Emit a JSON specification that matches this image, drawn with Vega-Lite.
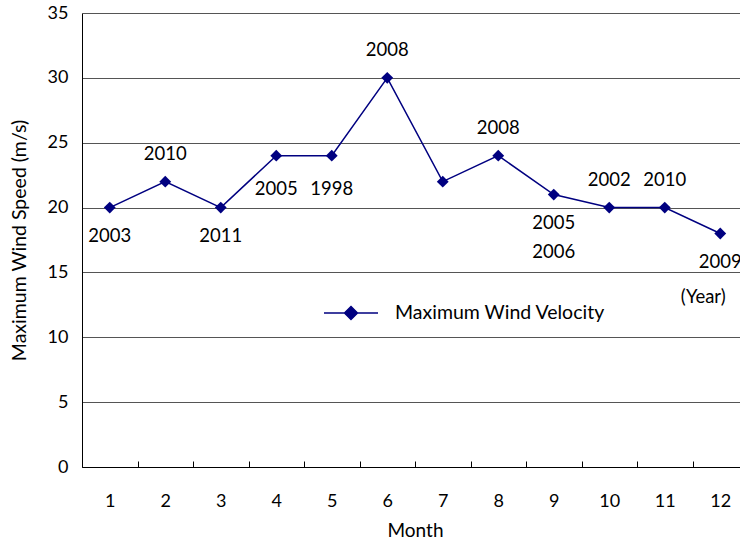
{
  "$schema": "https://vega.github.io/schema/vega-lite/v6.json",
  "width": 666,
  "height": 454,
  "autosize": {"type": "none"},
  "padding": {"left": 82, "top": 13, "right": 0, "bottom": 73},
  "background": "white",
  "config": {
    "view": {"stroke": null},
    "font": "Lato",
    "axis": {"labelFont": "Lato", "titleFont": "Lato", "labelColor": "black", "titleColor": "black", "titleFontWeight": "normal"}
  },
  "datasets": {
    "speeds": [
      {"month": 1, "speed": 20, "series": "Maximum Wind Velocity"},
      {"month": 2, "speed": 22, "series": "Maximum Wind Velocity"},
      {"month": 3, "speed": 20, "series": "Maximum Wind Velocity"},
      {"month": 4, "speed": 24, "series": "Maximum Wind Velocity"},
      {"month": 5, "speed": 24, "series": "Maximum Wind Velocity"},
      {"month": 6, "speed": 30, "series": "Maximum Wind Velocity"},
      {"month": 7, "speed": 22, "series": "Maximum Wind Velocity"},
      {"month": 8, "speed": 24, "series": "Maximum Wind Velocity"},
      {"month": 9, "speed": 21, "series": "Maximum Wind Velocity"},
      {"month": 10, "speed": 20, "series": "Maximum Wind Velocity"},
      {"month": 11, "speed": 20, "series": "Maximum Wind Velocity"},
      {"month": 12, "speed": 18, "series": "Maximum Wind Velocity"}
    ],
    "labels": [
      {"month": 1, "speed": 20, "text": "2003", "place": "below"},
      {"month": 2, "speed": 22, "text": "2010", "place": "above"},
      {"month": 3, "speed": 20, "text": "2011", "place": "below"},
      {"month": 4, "speed": 24, "text": "2005", "place": "belowfar"},
      {"month": 5, "speed": 24, "text": "1998", "place": "belowfar"},
      {"month": 6, "speed": 30, "text": "2008", "place": "above"},
      {"month": 8, "speed": 24, "text": "2008", "place": "above"},
      {"month": 9, "speed": 21, "text": "2005", "place": "below"},
      {"month": 9, "speed": 21, "text": "2006", "place": "below2"},
      {"month": 10, "speed": 20, "text": "2002", "place": "above"},
      {"month": 11, "speed": 20, "text": "2010", "place": "above"},
      {"month": 12, "speed": 18, "text": "2009", "place": "below"},
      {"month": 12, "speed": 18, "text": "(Year)", "place": "unit"}
    ]
  },
  "layer": [
    {
      "data": {"name": "speeds"},
      "mark": {"type": "line", "strokeWidth": 1.5, "point": false},
      "encoding": {
        "x": {
          "field": "month", "type": "ordinal", "bandPosition": 0.5,
          "scale": {"type": "band", "paddingInner": 0, "paddingOuter": 0},
          "axis": {
            "title": "Month", "labelAngle": 0, "tickBand": "extent",
            "tickSize": -6, "tickColor": "black", "domainColor": "black",
            "labelPadding": 31, "labelFontSize": 18, "titleFontSize": 19,
            "titlePadding": 11, "grid": false
          }
        },
        "y": {
          "field": "speed", "type": "quantitative",
          "scale": {"domain": [0, 35]},
          "axis": {
            "title": "Maximum Wind Speed (m/s)", "values": [0, 5, 10, 15, 20, 25, 30, 35],
            "grid": true, "gridColor": "#555555", "gridWidth": 1,
            "ticks": false, "domainColor": "black",
            "labelPadding": 14, "labelFontSize": 18, "titleFontSize": 19.5, "titlePadding": 18
          }
        },
        "color": {
          "field": "series", "type": "nominal",
          "scale": {"range": ["#000080"]},
          "legend": {
            "title": null, "orient": "none", "legendX": 241, "legendY": 272,
            "symbolType": "M-1,0L1,0M0,-0.24L0.24,0L0,0.24L-0.24,0Z",
            "symbolSize": 2916, "symbolStrokeWidth": 1.5, "symbolFillColor": "#000080",
            "labelFontSize": 19.5, "labelOffset": 16, "labelLimit": 0, "padding": 0, "labelColor": "black"
          }
        }
      }
    },
    {
      "data": {"name": "speeds"},
      "mark": {"type": "point", "shape": "diamond", "filled": true, "size": 140, "opacity": 1, "color": "#000080"},
      "encoding": {
        "x": {"field": "month", "type": "ordinal", "bandPosition": 0.5},
        "y": {"field": "speed", "type": "quantitative"}
      }
    },
    {
      "data": {"name": "labels"},
      "transform": [{"filter": "datum.place === 'above'"}],
      "mark": {"type": "text", "fontSize": 18.5, "dy": -28, "color": "black"},
      "encoding": {
        "x": {"field": "month", "type": "ordinal", "bandPosition": 0.5},
        "y": {"field": "speed", "type": "quantitative"},
        "text": {"field": "text"}
      }
    },
    {
      "data": {"name": "labels"},
      "transform": [{"filter": "datum.place === 'below'"}],
      "mark": {"type": "text", "fontSize": 18.5, "dy": 28, "color": "black"},
      "encoding": {
        "x": {"field": "month", "type": "ordinal", "bandPosition": 0.5},
        "y": {"field": "speed", "type": "quantitative"},
        "text": {"field": "text"}
      }
    },
    {
      "data": {"name": "labels"},
      "transform": [{"filter": "datum.place === 'belowfar'"}],
      "mark": {"type": "text", "fontSize": 18.5, "dy": 33, "color": "black"},
      "encoding": {
        "x": {"field": "month", "type": "ordinal", "bandPosition": 0.5},
        "y": {"field": "speed", "type": "quantitative"},
        "text": {"field": "text"}
      }
    },
    {
      "data": {"name": "labels"},
      "transform": [{"filter": "datum.place === 'below2'"}],
      "mark": {"type": "text", "fontSize": 18.5, "dy": 57, "color": "black"},
      "encoding": {
        "x": {"field": "month", "type": "ordinal", "bandPosition": 0.5},
        "y": {"field": "speed", "type": "quantitative"},
        "text": {"field": "text"}
      }
    },
    {
      "data": {"name": "labels"},
      "transform": [{"filter": "datum.place === 'unit'"}],
      "mark": {"type": "text", "fontSize": 18.5, "dy": 63, "dx": -17, "color": "black"},
      "encoding": {
        "x": {"field": "month", "type": "ordinal", "bandPosition": 0.5},
        "y": {"field": "speed", "type": "quantitative"},
        "text": {"field": "text"}
      }
    }
  ]
}
